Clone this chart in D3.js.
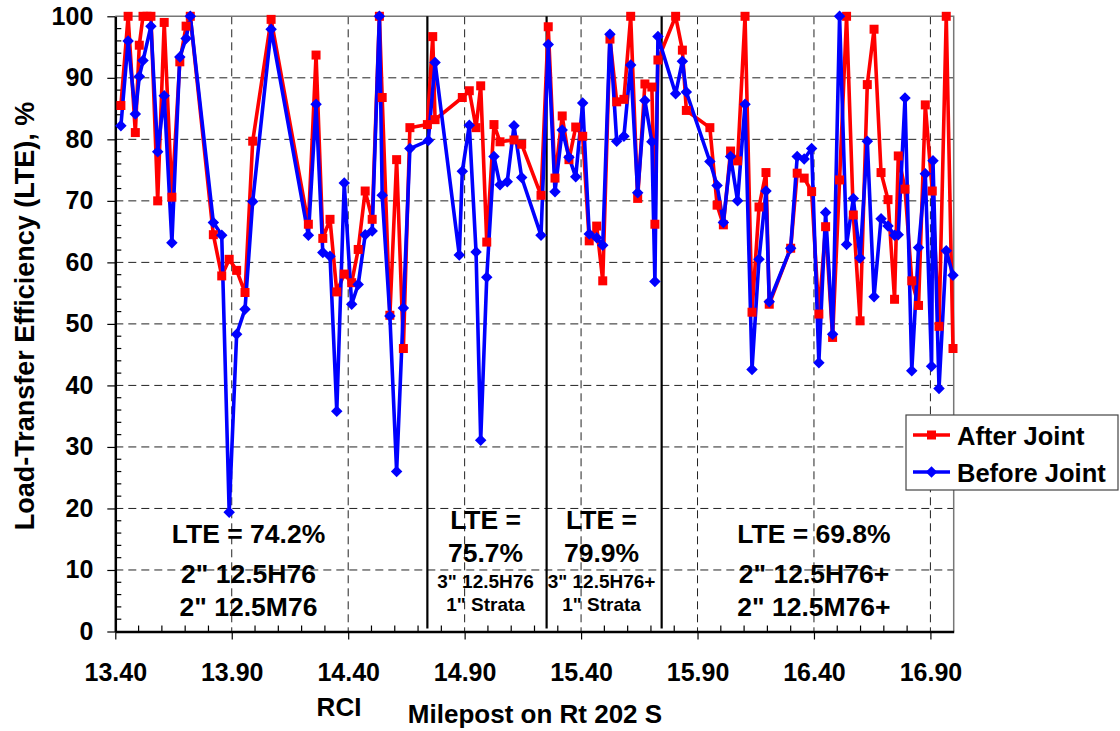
<!DOCTYPE html>
<html>
<head>
<meta charset="utf-8">
<script src="https://cdn.jsdelivr.net/npm/d3@7"></script>
<style>
  html, body { margin: 0; padding: 0; background: #fff; }
  svg { display: block; }
  text { font-family: "Liberation Sans", Arial, sans-serif; font-weight: bold; fill: #000; }
</style>
</head>
<body>
<svg id="chart" width="1120" height="731"></svg>
<script>
// ---------------- data ----------------
const afterMilepost = [13.424,13.455,13.486,13.503,13.519,13.536,13.553,13.582,13.610,13.643,13.677,13.704,13.722,
  13.821,13.857,13.889,13.921,13.957,13.990,14.069,14.229,14.262,14.291,14.322,14.351,14.383,14.415,14.443,14.473,
  14.503,14.534,14.546,14.579,14.608,14.637,14.665,14.740,14.763,14.773,14.890,14.920,14.949,14.969,14.995,15.026,
  15.052,15.112,15.145,15.228,15.259,15.288,15.319,15.348,15.377,15.407,15.435,15.467,15.493,15.524,15.553,15.584,
  15.613,15.643,15.674,15.704,15.717,15.730,15.806,15.835,15.852,15.953,15.984,16.011,16.042,16.072,16.104,16.134,
  16.164,16.194,16.208,16.300,16.328,16.358,16.390,16.421,16.450,16.480,16.510,16.540,16.569,16.598,16.629,16.658,
  16.688,16.718,16.746,16.762,16.791,16.820,16.849,16.878,16.908,16.937,16.968,16.997];
const afterLTE = [85.5,100,81.1,95.3,100,100,100,70.0,99.0,70.6,92.6,98.4,100,
  64.5,57.8,60.5,58.7,55.1,79.7,99.5,66.2,93.7,63.9,67.0,55.2,58.1,56.7,62.1,71.6,
  67.0,100,86.8,51.4,76.7,46.0,81.9,82.4,96.7,83.2,86.8,87.9,81.9,88.7,63.3,82.4,
  79.6,79.9,79.2,70.9,98.3,73.7,83.8,76.7,82.0,80.5,63.5,65.9,57.0,96.3,86.1,86.5,
  100,70.4,89.0,88.5,66.2,92.9,100,94.5,84.7,81.9,69.3,66.1,78.1,76.5,100,51.9,
  69.0,74.6,53.2,62.3,74.5,73.7,71.5,51.6,65.8,47.8,73.4,100,67.7,50.5,88.9,97.9,
  74.6,70.2,54.0,77.3,71.9,57.0,53.0,85.6,71.6,49.6,100,46.0];

const beforeMilepost = [13.424,13.455,13.486,13.503,13.519,13.553,13.582,13.610,13.643,13.677,13.704,13.722,
  13.821,13.857,13.889,13.921,13.957,13.990,14.069,14.229,14.262,14.291,14.322,14.351,14.383,14.415,14.443,14.473,
  14.503,14.534,14.546,14.579,14.608,14.637,14.665,14.744,14.773,14.877,14.890,14.920,14.949,14.969,14.995,15.026,
  15.052,15.083,15.112,15.145,15.228,15.259,15.288,15.319,15.348,15.377,15.407,15.435,15.467,15.493,15.524,15.553,
  15.584,15.613,15.643,15.674,15.704,15.717,15.730,15.806,15.835,15.852,15.953,15.984,16.011,16.042,16.072,16.104,
  16.134,16.164,16.194,16.208,16.300,16.328,16.358,16.390,16.421,16.450,16.480,16.510,16.540,16.569,16.598,16.629,
  16.658,16.688,16.718,16.746,16.762,16.791,16.820,16.849,16.878,16.905,16.911,16.937,16.968,16.997];
const beforeLTE = [82.2,96.0,84.1,90.2,92.8,98.4,78.0,87.1,63.2,93.4,96.4,100,
  66.5,64.4,19.4,48.3,52.4,69.9,97.9,64.4,85.7,61.6,61.0,35.8,72.9,53.2,56.4,64.5,
  65.1,100,70.9,51.3,26.0,52.6,78.5,79.8,92.5,61.2,74.8,82.3,61.7,31.1,57.6,77.2,
  72.6,73.1,82.2,73.8,64.4,95.4,71.5,81.5,77.1,73.9,85.9,64.6,64.0,62.8,97.1,79.7,
  80.5,92.1,71.3,86.3,79.6,56.9,96.7,87.4,92.7,87.7,76.4,72.5,66.5,77.2,70.0,85.7,
  42.6,60.5,71.6,53.6,62.3,77.2,76.8,78.5,43.7,68.1,48.3,100,62.9,70.4,60.7,79.7,
  54.4,67.1,65.9,64.4,64.5,86.7,42.4,62.4,74.4,43.1,76.5,39.5,61.9,57.9];

const seriesNames = ["After Joint", "Before Joint"];
const seriesColors = ["#FF0000", "#0000FF"];
const xTicks = [13.4, 13.9, 14.4, 14.9, 15.4, 15.9, 16.4, 16.9];
const yTicks = [0, 10, 20, 30, 40, 50, 60, 70, 80, 90, 100];
const sectionBreaks = [14.740, 15.252, 15.746];
const xTitle = "Milepost on Rt 202 S";
const yTitle = "Load-Transfer Efficiency (LTE), %";
const rciLabel = "RCI";

// section annotations: centre milepost and lines of text
const sectionNotes = [
  {mp: 13.972, big: ["LTE = 74.2%", "2\" 12.5H76", "2\" 12.5M76"]},
  {mp: 14.990, big: ["LTE =", "75.7%"], small: ["3\" 12.5H76", "1\" Strata"]},
  {mp: 15.488, big: ["LTE =", "79.9%"], small: ["3\" 12.5H76+", "1\" Strata"]},
  {mp: 16.400, big: ["LTE = 69.8%", "2\" 12.5H76+", "2\" 12.5M76+"]}
];

// ---------------- layout ----------------
const svg = d3.select("#chart");
const L = 115.3, R = 953.7, T = 16.3, B = 631.5;
const x = d3.scaleLinear().domain([13.4, 17.0]).range([L, R]);
const y = d3.scaleLinear().domain([0, 100]).range([B, T]);

// gridlines
const grid = svg.append("g");
grid.selectAll("line.h").data(yTicks.filter(v => v > 0 && v < 100)).join("line")
  .attr("x1", L).attr("x2", R).attr("y1", d => y(d)).attr("y2", d => y(d))
  .attr("stroke", "#222").attr("stroke-width", 1).attr("stroke-dasharray", "8,5");
grid.selectAll("line.v").data(xTicks.filter(v => v > 13.4)).join("line")
  .attr("x1", d => x(d)).attr("x2", d => x(d)).attr("y1", T).attr("y2", B)
  .attr("stroke", "#222").attr("stroke-width", 1).attr("stroke-dasharray", "8,5");

// top / right border
svg.append("path").attr("d", `M${L},${T}H${R}V${B}`)
  .attr("fill", "none").attr("stroke", "#777").attr("stroke-width", 1.5);

// section break lines
svg.append("g").selectAll("line").data(sectionBreaks).join("line")
  .attr("x1", d => x(d)).attr("x2", d => x(d)).attr("y1", T).attr("y2", B - 3)
  .attr("stroke", "#000").attr("stroke-width", 2.2);

// minor ticks (inward)
const minorX = d3.range(13.5, 17.0, 0.1).filter(v => Math.abs(((v - 13.4) / 0.5) - Math.round((v - 13.4) / 0.5)) > 0.01);
svg.append("g").selectAll("line").data(minorX).join("line")
  .attr("x1", d => x(d)).attr("x2", d => x(d)).attr("y1", B).attr("y2", B - 6)
  .attr("stroke", "#000").attr("stroke-width", 1.2);
const minorY = d3.range(2, 100, 2).filter(v => v % 10 !== 0);
svg.append("g").selectAll("line").data(minorY).join("line")
  .attr("x1", L).attr("x2", L + 6).attr("y1", d => y(d)).attr("y2", d => y(d))
  .attr("stroke", "#000").attr("stroke-width", 1.2);

// axes
const xAxis = svg.append("g").attr("transform", `translate(0,${B})`)
  .call(d3.axisBottom(x).tickValues(xTicks).tickFormat(d3.format(".2f")).tickSizeInner(8).tickSizeOuter(0).tickPadding(24));
const yAxis = svg.append("g").attr("transform", `translate(${L},0)`)
  .call(d3.axisLeft(y).tickValues(yTicks).tickSizeInner(8).tickSizeOuter(0).tickPadding(14));
[xAxis, yAxis].forEach(a => {
  a.select(".domain").attr("stroke", "#000").attr("stroke-width", 2.5);
  a.selectAll(".tick line").attr("stroke", "#000").attr("stroke-width", 1.2);
  a.selectAll(".tick text").style("font-size", "25px").style("font-weight", "bold")
    .style("font-family", "'Liberation Sans', Arial, sans-serif").attr("fill", "#000");
});

// series
const afterData = afterMilepost.map((m, i) => ({mp: m, v: afterLTE[i]}));
const beforeData = beforeMilepost.map((m, i) => ({mp: m, v: beforeLTE[i]}));
const line = d3.line().x(d => x(d.mp)).y(d => y(d.v));

const squarePath = s => `M${-s/2},${-s/2}h${s}v${s}h${-s}Z`;
const diamondPath = s => `M0,${-s/2}L${s/2},0L0,${s/2}L${-s/2},0Z`;

svg.append("path").datum(afterData).attr("d", line)
  .attr("fill", "none").attr("stroke", seriesColors[0]).attr("stroke-width", 3.6).attr("stroke-linejoin", "round");
svg.append("path").datum(beforeData).attr("d", line)
  .attr("fill", "none").attr("stroke", seriesColors[1]).attr("stroke-width", 3.6).attr("stroke-linejoin", "round");

svg.append("g").selectAll("path").data(afterData).join("path")
  .attr("d", squarePath(9)).attr("transform", d => `translate(${x(d.mp)},${y(d.v)})`)
  .attr("fill", seriesColors[0]);
svg.append("g").selectAll("path").data(beforeData).join("path")
  .attr("d", diamondPath(11.5)).attr("transform", d => `translate(${x(d.mp)},${y(d.v)})`)
  .attr("fill", seriesColors[1]);

// annotations
const notes = svg.append("g");
sectionNotes.forEach(n => {
  const cx = x(n.mp);
  if (!n.small) {
    notes.append("text").attr("x", cx).attr("y", 543).attr("text-anchor", "middle").style("font-size", "26.5px").text(n.big[0]);
    notes.append("text").attr("x", cx).attr("y", 583).attr("text-anchor", "middle").style("font-size", "26.5px").text(n.big[1]);
    notes.append("text").attr("x", cx).attr("y", 616).attr("text-anchor", "middle").style("font-size", "26.5px").text(n.big[2]);
  } else {
    notes.append("text").attr("x", cx).attr("y", 529).attr("text-anchor", "middle").style("font-size", "26.5px").text(n.big[0]);
    notes.append("text").attr("x", cx).attr("y", 561.5).attr("text-anchor", "middle").style("font-size", "26.5px").text(n.big[1]);
    notes.append("text").attr("x", cx).attr("y", 587.5).attr("text-anchor", "middle").style("font-size", "19px").text(n.small[0]);
    notes.append("text").attr("x", cx).attr("y", 611).attr("text-anchor", "middle").style("font-size", "19px").text(n.small[1]);
  }
});

// axis titles
svg.append("text").attr("x", 535).attr("y", 723).attr("text-anchor", "middle").style("font-size", "26px").text(xTitle);
svg.append("text").attr("x", 339).attr("y", 716).attr("text-anchor", "middle").style("font-size", "26px").text(rciLabel);
svg.append("text").attr("transform", "translate(34,316) rotate(-90)").attr("text-anchor", "middle")
  .style("font-size", "27px").text(yTitle);

// legend
const lg = svg.append("g");
lg.append("rect").attr("x", 906).attr("y", 415).attr("width", 212).attr("height", 75)
  .attr("fill", "#fff").attr("stroke", "#444").attr("stroke-width", 1.2);
const legendRows = [435, 472];
seriesNames.forEach((name, i) => {
  const ly = legendRows[i];
  lg.append("line").attr("x1", 913).attr("x2", 950).attr("y1", ly).attr("y2", ly)
    .attr("stroke", seriesColors[i]).attr("stroke-width", 3.5);
  lg.append("path").attr("d", i === 0 ? squarePath(9) : diamondPath(11.5))
    .attr("transform", `translate(931.5,${ly})`).attr("fill", seriesColors[i]);
  lg.append("text").attr("x", 957).attr("y", ly + 9.5).style("font-size", "25.5px").text(name);
});
</script>
</body>
</html>
